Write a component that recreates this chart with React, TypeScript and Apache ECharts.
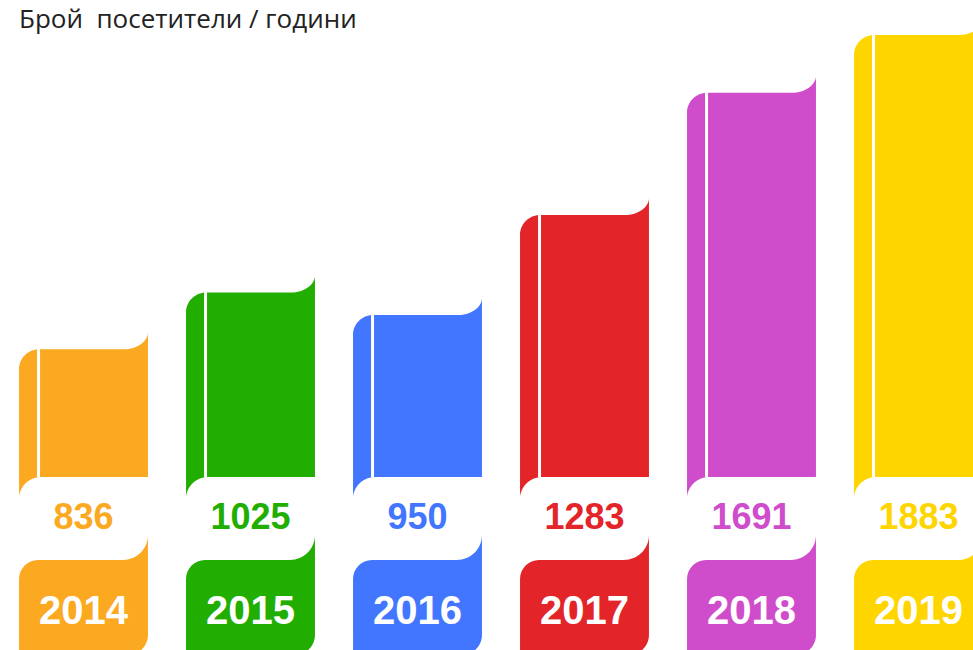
import React, { useEffect, useRef } from "react";
import * as echarts from "echarts";

const titleText = "Брой  посетители / години";
const categories = ["2014", "2015", "2016", "2017", "2018", "2019"];
const visitors = [836, 1025, 950, 1283, 1691, 1883];
const barColors = ["#FCA922", "#21AE00", "#4276FF", "#E32428", "#CF4CCB", "#FFD500"];

const NUM_FONT = '"Liberation Sans", Arial, Helvetica, sans-serif';

function renderItem(params: any, api: any) {
  const i = api.value(0);
  const v = api.value(1);
  const top = api.coord([i, v]);
  const cx = top[0];
  const yt = top[1];
  const zeroY = api.coord([i, 0])[1];
  const bw = api.size([1, 0])[0] * 0.772;
  const x0 = cx - bw / 2;
  const x1 = cx + bw / 2;
  const color = barColors[i];

  const yb = zeroY - 123; // body bottom
  const yB = zeroY - 40; // bottom block top
  const yE = zeroY + 55; // bottom block bottom

  const r = 20;
  const tw = 24;
  const th = 17;
  const rc = 22;
  const body =
    `M${x0} ${yt + r}` +
    `C${x0} ${yt + r - 11} ${x0 + r - 11} ${yt} ${x0 + r} ${yt}` +
    `L${x1 - tw} ${yt}` +
    `C${x1 - tw + tw * 0.55} ${yt} ${x1} ${yt - th + th * 0.55} ${x1} ${yt - th}` +
    `L${x1} ${yb}` +
    `L${x0 + rc} ${yb}` +
    `C${x0 + rc - rc * 0.55} ${yb} ${x0} ${yb + rc - rc * 0.55} ${x0} ${yb + rc}` +
    `Z`;

  const r2 = 19;
  const tw2 = 25;
  const th2 = 25;
  const r3 = 20;
  const block =
    `M${x0} ${yB + r2}` +
    `C${x0} ${yB + r2 - r2 * 0.55} ${x0 + r2 - r2 * 0.55} ${yB} ${x0 + r2} ${yB}` +
    `L${x1 - tw2} ${yB}` +
    `C${x1 - tw2 + tw2 * 0.55} ${yB} ${x1} ${yB - th2 + th2 * 0.55} ${x1} ${yB - th2}` +
    `L${x1} ${yE - r3}` +
    `C${x1} ${yE - r3 + r3 * 0.55} ${x1 - r3 + r3 * 0.55} ${yE} ${x1 - r3} ${yE}` +
    `L${x0} ${yE}` +
    `Z`;

  return {
    type: "group",
    children: [
      { type: "path", shape: { pathData: body }, style: { fill: color } },
      {
        type: "rect",
        shape: { x: x0 + 18, y: yt - 1, width: 3, height: yb - yt + 1 },
        style: { fill: "#ffffff" },
      },
      { type: "path", shape: { pathData: block }, style: { fill: color } },
      {
        type: "text",
        style: {
          text: String(v),
          x: cx,
          y: zeroY - 84,
          align: "center",
          verticalAlign: "middle",
          textAlign: "center",
          textVerticalAlign: "middle",
          fill: color,
          font: `bold 36px ${NUM_FONT}`,
        },
      },
      {
        type: "text",
        style: {
          text: categories[i],
          x: cx,
          y: zeroY + 10,
          align: "center",
          verticalAlign: "middle",
          textAlign: "center",
          textVerticalAlign: "middle",
          fill: "#ffffff",
          font: `bold 40px ${NUM_FONT}`,
        },
      },
    ],
  };
}

export default function App() {
  const ref = useRef<HTMLDivElement>(null);
  useEffect(() => {
    if (!ref.current) return;
    const chart = echarts.init(ref.current, undefined, { renderer: "svg" });
    chart.setOption({
      animation: false,
      backgroundColor: "#ffffff",
      title: {
        text: titleText,
        left: 14,
        top: 0,
        textStyle: {
          fontFamily: '"Open Sans", "Noto Sans", sans-serif',
          fontSize: 26,
          fontWeight: "normal",
          color: "#222222",
        },
      },
      grid: { left: 0, top: 0, right: 0, height: 600 },
      xAxis: { type: "category", data: categories, show: false },
      yAxis: { type: "value", min: 0, max: 2000, show: false },
      series: [
        {
          type: "custom",
          renderItem,
          clip: false,
          data: categories.map((c, i) => [i, visitors[i]]),
        },
      ],
    });
    return () => chart.dispose();
  }, []);
  return (
    <div
      style={{
        position: "fixed",
        left: 0,
        top: 0,
        width: 973,
        height: 650,
        overflow: "hidden",
        background: "#ffffff",
      }}
    >
      <div ref={ref} style={{ width: 1002, height: 650 }} />
    </div>
  );
}
